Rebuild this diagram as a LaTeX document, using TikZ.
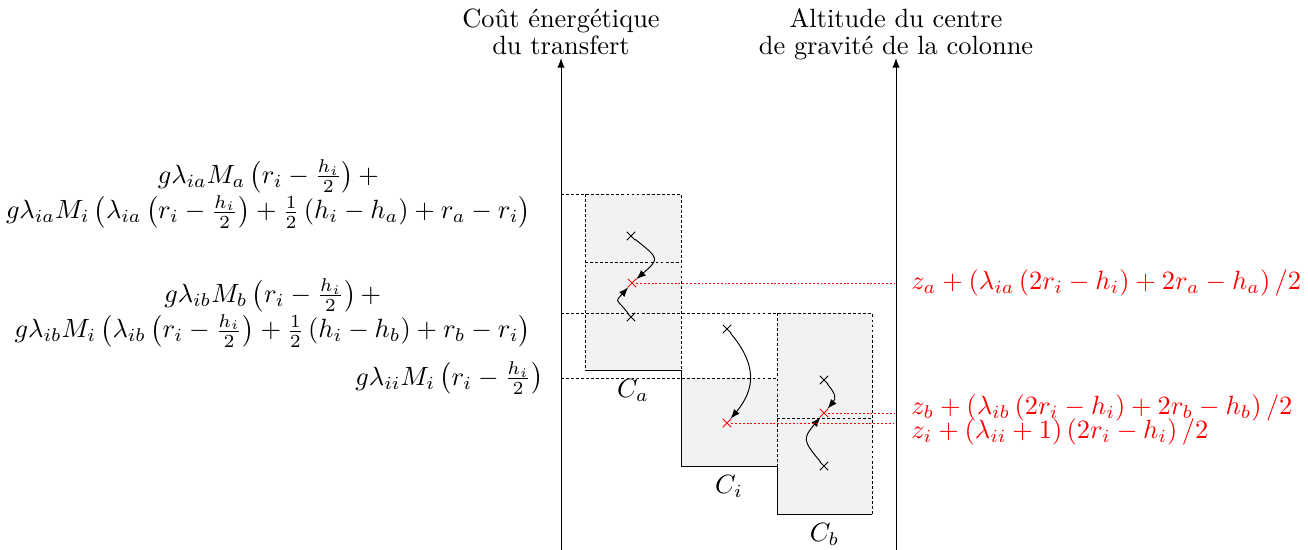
\documentclass[tikz,border=0pt]{standalone}
\usepackage{amsmath,amssymb}
\usepackage{xcolor}
\usetikzlibrary{shapes, arrows, positioning}

\tikzset{
  pointille/.style={dash pattern=on 1.2pt off 0.9pt},
  rouge/.style={red, dash pattern=on 0.8pt off 0.8pt},
  croix/.style={cross out, draw, minimum size=2.8pt, inner sep=0pt},
  fleche/.style={-latex},
  titre/.style={anchor=south, align=center, inner sep=0pt, text depth=0pt, font=\linespread{0.85}\selectfont},
}

\begin{document}
\begin{tikzpicture}[x=4.1667pt, y=4.1667pt, every node/.style={scale=1.1}]
        \useasboundingbox (0,0) rectangle (130.8,55);
        % Colonnes
        \fill[gray!10] (58.5,18) rectangle (68.1,35.6);
        \fill[gray!10] (68.1,8.4) rectangle (77.7,17.2);
        \fill[gray!10] (77.7,3.6) rectangle (87.2,23.7);
        % Pointilles
        \draw[pointille] (56.1,35.6) -- (68.1,35.6) -- (68.1,18);
        \draw[pointille] (58.5,35.6) -- (58.5,18);
        \draw[pointille] (58.5,28.8) -- (68.1,28.8);
        \draw[pointille] (56.1,23.7) -- (87.2,23.7) -- (87.2,3.6);
        \draw[pointille] (56.1,17.2) -- (77.7,17.2);
        \draw[pointille] (77.7,23.7) -- (77.7,8.4);
        \draw[pointille] (77.7,13.2) -- (87.2,13.2);
        % Fonds des colonnes
        \draw (58.5,18) -- (68.1,18) -- (68.1,8.4) -- (77.7,8.4) -- (77.7,3.6) -- (87.2,3.6);
        \node[below] (Ca) at (63.3,18) {$C_a$};
        \node[below] (Ci) at (72.9,8.4) {$C_i$};
        \node[below] (Cb) at (82.45,3.6) {$C_b$};
        % Axes
        \coordinate (E0) at (56.1,0);
        \coordinate (E1) at (56.1,49.2);
        \coordinate (Z0) at (89.6,0);
        \coordinate (Z1) at (89.6,49.2);
        \draw[-latex] (E0) -- (E1);
        \draw[-latex] (Z0) -- (Z1);
        \node[titre] (cout) at (56.1,49.5) {Coût énergétique\\du transfert};
        \node[titre] (alt) at (89.6,49.5) {Altitude du centre\\de gravité de la colonne};
        % Energies
        \node[anchor=east, align=center] (Ea) at (54.0,35.6)
          {$g\lambda_{ia}M_a\left(r_i-\frac{h_i}{2}\right)+$\\
           $g\lambda_{ia}M_i\left(\lambda_{ia}\left(r_i-\frac{h_i}{2}\right)+\frac{1}{2}\left(h_i-h_a\right)+r_a-r_i\right)$};
        \node[anchor=east, align=center] (Eb) at (54.0,23.7)
          {$g\lambda_{ib}M_b\left(r_i-\frac{h_i}{2}\right)+$\\
           $g\lambda_{ib}M_i\left(\lambda_{ib}\left(r_i-\frac{h_i}{2}\right)+\frac{1}{2}\left(h_i-h_b\right)+r_b-r_i\right)$};
        \node[anchor=east] (Ei) at (55.3,17.2) {$g\lambda_{ii}M_i\left(r_i-\frac{h_i}{2}\right)$};
        % Centres de gravite
        \node[croix] (a1) at (63.1,31.4) {};
        \node[croix, red] (am) at (63.2,26.7) {};
        \node[croix] (a2) at (63.1,23.3) {};
        \node[croix] (i1) at (72.7,22.1) {};
        \node[croix, red] (im) at (72.7,12.7) {};
        \node[croix] (b1) at (82.4,17.0) {};
        \node[croix, red] (bm) at (82.4,13.7) {};
        \node[croix] (b2) at (82.4,8.4) {};
        \draw[fleche] (a1) to[bend left=50, looseness=2] (am);
        \draw[fleche] (a2) to[bend left=40, looseness=2] (am);
        \draw[fleche] (i1) to[bend left=40, looseness=1.2] (im);
        \draw[fleche] (b1) to[bend left=40, looseness=1.4] (bm);
        \draw[fleche] (b2) to[bend left=40, looseness=1.6] (bm);
        % Altitudes
        \coordinate (za) at (89.6,26.7);
        \coordinate (zb) at (89.6,13.7);
        \coordinate (zi) at (89.6,12.7);
        \draw[rouge] (am) -- (za);
        \draw[rouge] (bm) -- (zb);
        \draw[rouge] (im) -- (zi);
        \node[anchor=west, red] (Za) at (90.2,26.7) {$z_a+\left(\lambda_{ia}\left(2r_i-h_i\right)+2r_a-h_a\right)/2$};
        \node[anchor=west, red] (Zb) at (90.2,14.2) {$z_b+\left(\lambda_{ib}\left(2r_i-h_i\right)+2r_b-h_b\right)/2$};
        \node[anchor=west, red] (Zi) at (90.2,11.8) {$z_i+\left(\lambda_{ii}+1\right)\left(2r_i-h_i\right)/2$};
\end{tikzpicture}
\end{document}
